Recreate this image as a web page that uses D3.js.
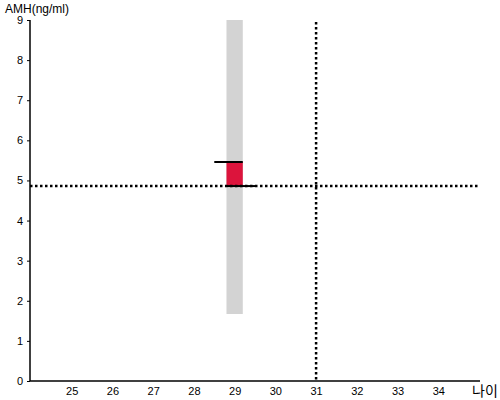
<!DOCTYPE html>
<html>
<head>
<meta charset="utf-8">
<script src="https://cdn.jsdelivr.net/npm/d3@7"></script>
<style>
  body { margin: 0; background: #fff; }
  svg { display: block; font-family: "Liberation Sans", Arial, sans-serif; }
</style>
</head>
<body>
<svg id="chart" width="500" height="400"></svg>
<script>
// chart values
const xDomain = [24, 35]
const yDomain = [0, 9]
const xTicks = [25, 26, 27, 28, 29, 30, 31, 32, 33, 34]
const yTicks = [0, 1, 2, 3, 4, 5, 6, 7, 8, 9]
const refAge = [29]            // age of the reference band
const refRange = [1.67, 9]     // grey band low/high
const valueBand = [4.86, 5.46] // red box low/high
const markTop = [28.5, 29.2, 5.46]    // x0, x1, y
const markBottom = [28.8, 29.5, 4.86] // x0, x1, y
const crossX = [31]
const crossY = [4.86]

const svg = d3.select('#chart')
const plotLeft = 30, plotRight = 480, plotTop = 20, plotBottom = 381

const x = d3.scaleLinear().domain(xDomain).range([plotLeft + 1, plotRight - 1])
const y = d3.scaleLinear().domain(yDomain).range([plotBottom, plotTop])
const halfW = 0.2

// grey reference band
svg.append('rect')
    .attr('x', x(refAge[0] - halfW))
    .attr('width', x(refAge[0] + halfW) - x(refAge[0] - halfW))
    .attr('y', y(refRange[1]))
    .attr('height', y(refRange[0]) - y(refRange[1]))
    .attr('fill', '#d3d3d3')

// red value box
svg.append('rect')
    .attr('x', x(refAge[0] - halfW))
    .attr('width', x(refAge[0] + halfW) - x(refAge[0] - halfW))
    .attr('y', y(valueBand[1]))
    .attr('height', y(valueBand[0]) - y(valueBand[1]))
    .attr('fill', '#dc143c')

// dotted cross lines
svg.append('line')
    .attr('x1', plotLeft).attr('x2', plotRight)
    .attr('y1', y(crossY[0])).attr('y2', y(crossY[0]))
    .attr('stroke', 'black').attr('stroke-width', 2.5)
    .attr('stroke-dasharray', '2.5,2.5')

svg.append('line')
    .attr('x1', x(crossX[0])).attr('x2', x(crossX[0]))
    .attr('y1', plotTop + 2).attr('y2', plotBottom)
    .attr('stroke', 'black').attr('stroke-width', 2.5)
    .attr('stroke-dasharray', '2.5,2.5')

// black marker lines
;[markTop, markBottom].forEach(m => {
    svg.append('line')
        .attr('x1', x(m[0])).attr('x2', x(m[1]))
        .attr('y1', y(m[2])).attr('y2', y(m[2]))
        .attr('stroke', 'black').attr('stroke-width', 2)
})

// axes
const xAxis = svg.append('g')
    .attr('transform', `translate(0,${plotBottom})`)
    .call(d3.axisBottom(x).tickValues(xTicks).tickSize(0).tickPadding(6))
xAxis.select('.domain').attr('d', `M${plotLeft},0H${plotRight}`).attr('stroke-width', 1.5)
xAxis.selectAll('text').attr('font-size', 11).attr('font-family', 'Liberation Sans, Arial, sans-serif').attr('fill', '#000')

const yAxis = svg.append('g')
    .attr('transform', `translate(${plotLeft},0)`)
    .call(d3.axisLeft(y).tickValues(yTicks).tickSize(3).tickPadding(4))
yAxis.select('.domain').attr('d', `M0,${plotTop}V${plotBottom}`).attr('stroke-width', 1.5)
yAxis.selectAll('text').attr('font-size', 11).attr('font-family', 'Liberation Sans, Arial, sans-serif').attr('fill', '#000')

// axis titles
svg.append('text')
    .attr('x', 5).attr('y', 13)
    .attr('font-size', 12)
    .text('AMH(ng/ml)')

svg.append('text')
    .attr('x', 472).attr('y', 396)
    .attr('font-size', 14)
    .attr('font-family', '"Noto Sans CJK KR", sans-serif')
    .text('나이')
</script>
</body>
</html>
